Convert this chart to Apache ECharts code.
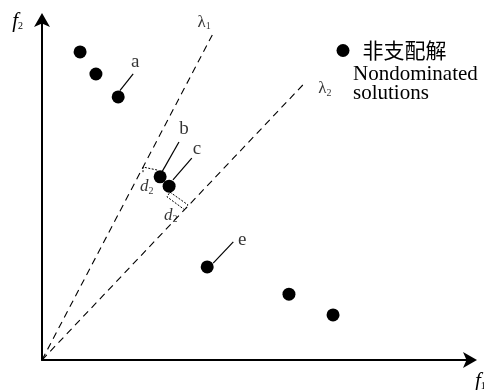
<!DOCTYPE html>
<html>
<head>
<meta charset="utf-8">
<script src="https://cdn.jsdelivr.net/npm/echarts@6/dist/echarts.min.js"></script>
<style>html,body{margin:0;padding:0;background:#fff}#c{width:484px;height:390px}</style>
</head>
<body>
<div id="c"></div>
<script>
// ---- data ----
const solutionsX = [0.89, 1.26, 1.78, 2.76, 2.97, 3.86, 5.77, 6.80];
const solutionsY = [7.25, 6.73, 6.19, 4.31, 4.09, 2.19, 1.55, 1.06];
const legendName = '非支配解';
const legendNote = 'Nondominated\nsolutions';
const lambdaSubs = ['1', '2'];
const lambdaEnd = [[4.00, 7.69], [6.14, 6.52]];
const lambdaLabelPos = [[3.79, 7.95], [6.61, 6.38]];
const pointLabels = ['a', 'b', 'c', 'e'];
const pointLabelPos = [[2.18, 7.00], [3.32, 5.44], [3.62, 4.96], [4.68, 2.82]];
const leaderFrom = [[1.82, 6.34], [2.80, 4.42], [3.06, 4.24], [4.00, 2.28]];
const leaderTo = [[2.13, 6.73], [3.20, 5.13], [3.50, 4.75], [4.47, 2.78]];
const distLabelPos = [[2.45, 4.07], [3.01, 3.41]];
const bracketB = [[2.36, 4.42], [2.36, 4.54], [2.69, 4.47], [2.71, 4.38]];
const bracketC = [[2.99, 3.95], [3.41, 3.65], [3.34, 3.53], [2.92, 3.84], [2.99, 3.95]];

const serif = '"Liberation Serif", "Times New Roman", serif';
const chart = echarts.init(document.getElementById('c'), null, {renderer: 'canvas'});

const series = [];
series.push({
  name: legendName, type: 'scatter', symbol: 'circle', symbolSize: 13,
  itemStyle: {color: '#000', opacity: 1},
  data: solutionsX.map((x, i) => [x, solutionsY[i]]),
  z: 5
});
lambdaEnd.forEach((e) => {
  series.push({type: 'line', symbol: 'none', silent: true,
    lineStyle: {color: '#000', width: 1.1, type: [7, 5]},
    data: [[0, 0], e]});
});
leaderFrom.forEach((f, i) => {
  series.push({type: 'line', symbol: 'none', silent: true,
    lineStyle: {color: '#000', width: 1.2},
    data: [f, leaderTo[i]]});
});
[bracketB, bracketC].forEach((b) => {
  series.push({type: 'line', symbol: 'none', silent: true,
    lineStyle: {color: '#000', width: 1, type: [2, 1.5]},
    data: b});
});
// text annotations
const textData = [];
pointLabels.forEach((t, i) => textData.push({value: pointLabelPos[i], label: {formatter: '{t|' + t + '}'}}));
lambdaSubs.forEach((s, i) => textData.push({value: lambdaLabelPos[i], label: {formatter: '{l|λ}{s|' + s + '}'}}));
distLabelPos.forEach((p) => textData.push({value: p, label: {formatter: '{d|d}{s|2}'}}));
series.push({
  type: 'scatter', symbol: 'circle', symbolSize: 1, silent: true,
  itemStyle: {color: 'rgba(0,0,0,0)'},
  label: {
    show: true, position: 'inside', color: '#000',
    rich: {
      t: {fontFamily: serif, fontSize: 19, color: '#000'},
      l: {fontFamily: serif, fontSize: 17, color: '#000'},
      d: {fontFamily: serif, fontSize: 17, fontStyle: 'italic', color: '#000'},
      s: {fontFamily: serif, fontSize: 10, color: '#000', padding: [9, 0, 0, 0]}
    }
  },
  data: textData
});

const axisArrow = {show: true, lineStyle: {color: '#000', width: 2}, symbol: ['none', 'arrow'], symbolSize: [12, 14], symbolOffset: [0, 7]};
chart.setOption({
  animation: false,
  grid: {left: 42, right: 14, top: 20, bottom: 30, outerBoundsMode: 'none', containLabel: false},
  legend: {
    data: [legendName], left: 336.5, top: 40, padding: 0,
    icon: 'circle', itemWidth: 13, itemHeight: 13,
    itemStyle: {color: '#000', opacity: 1},
    textStyle: {fontFamily: '"Noto Sans CJK SC", sans-serif', fontSize: 21, color: '#000', lineHeight: 20, padding: [0, 0, 0, 8]}
  },
  xAxis: {
    type: 'value', min: 0, max: 10,
    axisLine: axisArrow, axisTick: {show: false}, axisLabel: {show: false}, splitLine: {show: false},
    name: '{f|f}{s|1}', nameLocation: 'end', nameGap: 5,
    nameTextStyle: {align: 'left', verticalAlign: 'top', padding: [11, 0, 0, 0],
      rich: {f: {fontFamily: serif, fontSize: 21, fontStyle: 'italic', color: '#000'},
             s: {fontFamily: serif, fontSize: 10, color: '#000', padding: [9, 0, 0, 0]}}}
  },
  yAxis: {
    type: 'value', min: 0, max: 8,
    axisLine: axisArrow, axisTick: {show: false}, axisLabel: {show: false}, splitLine: {show: false},
    name: '{f|f}{s|2}', nameLocation: 'end', nameGap: -12,
    nameTextStyle: {align: 'right', verticalAlign: 'bottom', padding: [0, 19, 0, 0],
      rich: {f: {fontFamily: serif, fontSize: 21, fontStyle: 'italic', color: '#000'},
             s: {fontFamily: serif, fontSize: 10, color: '#000', padding: [9, 0, 0, 0]}}}
  },
  graphic: [{
    type: 'text', left: 353, top: 64, silent: true,
    style: {text: legendNote, font: '21px ' + serif, fill: '#000', lineHeight: 19}
  }],
  series: series
});
</script>
</body>
</html>
